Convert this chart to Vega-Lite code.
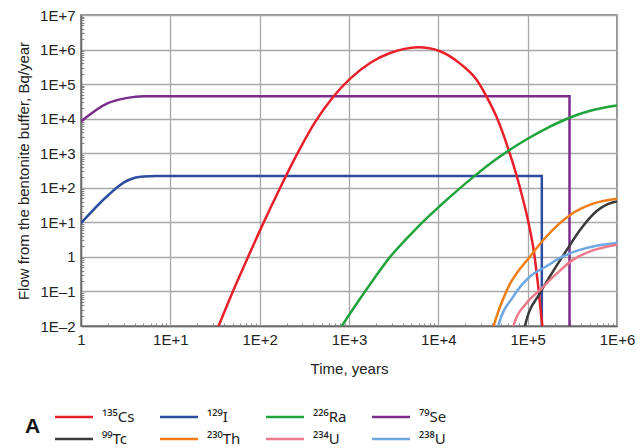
{
  "$schema": "https://vega.github.io/schema/vega-lite/v6.json",
  "autosize": "none",
  "width": 536,
  "height": 311,
  "padding": {"left": 81, "top": 15, "right": 27, "bottom": 122},
  "config": {
    "font": "Liberation Sans",
    "view": {"stroke": "#6b6b6b", "strokeWidth": 1.5},
    "axis": {
      "labelFont": "Liberation Sans",
      "titleFont": "Liberation Sans",
      "labelFontSize": 15,
      "titleFontSize": 15,
      "titleFontWeight": "normal",
      "labelColor": "#222",
      "titleColor": "#222",
      "domainColor": "#6b6b6b",
      "domainWidth": 1.5,
      "gridColor": "#a8a8a8",
      "gridWidth": 1.3,
      "tickColor": "#888"
    }
  },
  "data": {"values": [
    {"series": "⁷⁹Se", "t": 1, "v": 8300},
    {"series": "⁷⁹Se", "t": 2, "v": 28200},
    {"series": "⁷⁹Se", "t": 3, "v": 38000},
    {"series": "⁷⁹Se", "t": 4, "v": 42700},
    {"series": "⁷⁹Se", "t": 5, "v": 44700},
    {"series": "⁷⁹Se", "t": 10, "v": 44700},
    {"series": "⁷⁹Se", "t": 294000, "v": 44700},
    {"series": "⁷⁹Se", "t": 294001, "v": 0.001},

    {"series": "¹²⁹I", "t": 1, "v": 9.5},
    {"series": "¹²⁹I", "t": 2, "v": 60},
    {"series": "¹²⁹I", "t": 3, "v": 141},
    {"series": "¹²⁹I", "t": 4, "v": 195},
    {"series": "¹²⁹I", "t": 5, "v": 212},
    {"series": "¹²⁹I", "t": 7, "v": 218},
    {"series": "¹²⁹I", "t": 144000, "v": 218},
    {"series": "¹²⁹I", "t": 144001, "v": 0.001},

    {"series": "¹³⁵Cs", "t": 31.6, "v": 0.0056},
    {"series": "¹³⁵Cs", "t": 34.67, "v": 0.01},
    {"series": "¹³⁵Cs", "t": 50.12, "v": 0.1},
    {"series": "¹³⁵Cs", "t": 74.13, "v": 1},
    {"series": "¹³⁵Cs", "t": 109.6, "v": 9.33},
    {"series": "¹³⁵Cs", "t": 166.0, "v": 89.1},
    {"series": "¹³⁵Cs", "t": 263.0, "v": 955},
    {"series": "¹³⁵Cs", "t": 416.9, "v": 7943},
    {"series": "¹³⁵Cs", "t": 660.7, "v": 41687},
    {"series": "¹³⁵Cs", "t": 1023, "v": 141254},
    {"series": "¹³⁵Cs", "t": 1738, "v": 416869},
    {"series": "¹³⁵Cs", "t": 2884, "v": 794328},
    {"series": "¹³⁵Cs", "t": 4169, "v": 1047129},
    {"series": "¹³⁵Cs", "t": 5888, "v": 1161449},
    {"series": "¹³⁵Cs", "t": 7943, "v": 1096478},
    {"series": "¹³⁵Cs", "t": 10471, "v": 891251},
    {"series": "¹³⁵Cs", "t": 17378, "v": 398107},
    {"series": "¹³⁵Cs", "t": 26915, "v": 131826},
    {"series": "¹³⁵Cs", "t": 34674, "v": 43652},
    {"series": "¹³⁵Cs", "t": 44668, "v": 11482},
    {"series": "¹³⁵Cs", "t": 60256, "v": 1413},
    {"series": "¹³⁵Cs", "t": 75858, "v": 208.9},
    {"series": "¹³⁵Cs", "t": 83176, "v": 87.1},
    {"series": "¹³⁵Cs", "t": 102329, "v": 9.55},
    {"series": "¹³⁵Cs", "t": 117490, "v": 1.41},
    {"series": "¹³⁵Cs", "t": 131826, "v": 0.126},
    {"series": "¹³⁵Cs", "t": 146218, "v": 0.01},
    {"series": "¹³⁵Cs", "t": 154882, "v": 0.004},

    {"series": "²²⁶Ra", "t": 758.6, "v": 0.0069},
    {"series": "²²⁶Ra", "t": 831.8, "v": 0.01},
    {"series": "²²⁶Ra", "t": 1259, "v": 0.0501},
    {"series": "²²⁶Ra", "t": 1905, "v": 0.234},
    {"series": "²²⁶Ra", "t": 2884, "v": 1},
    {"series": "²²⁶Ra", "t": 4467, "v": 3.47},
    {"series": "²²⁶Ra", "t": 6761, "v": 10.5},
    {"series": "²²⁶Ra", "t": 10471, "v": 30.2},
    {"series": "²²⁶Ra", "t": 16596, "v": 87.1},
    {"series": "²²⁶Ra", "t": 25119, "v": 213.8},
    {"series": "²²⁶Ra", "t": 39811, "v": 549.5},
    {"series": "²²⁶Ra", "t": 63096, "v": 1259},
    {"series": "²²⁶Ra", "t": 100000, "v": 2630},
    {"series": "²²⁶Ra", "t": 177828, "v": 5888},
    {"series": "²²⁶Ra", "t": 288403, "v": 10471},
    {"series": "²²⁶Ra", "t": 501187, "v": 16982},
    {"series": "²²⁶Ra", "t": 1000000, "v": 23988},

    {"series": "²³⁰Th", "t": 39811, "v": 0.0063},
    {"series": "²³⁰Th", "t": 41687, "v": 0.01},
    {"series": "²³⁰Th", "t": 58884, "v": 0.112},
    {"series": "²³⁰Th", "t": 107152, "v": 1.047},
    {"series": "²³⁰Th", "t": 162181, "v": 3.89},
    {"series": "²³⁰Th", "t": 301995, "v": 16.6},
    {"series": "²³⁰Th", "t": 501187, "v": 32.4},
    {"series": "²³⁰Th", "t": 912011, "v": 46.8},
    {"series": "²³⁰Th", "t": 1000000, "v": 47.9},

    {"series": "⁹⁹Tc", "t": 89125, "v": 0.005},
    {"series": "⁹⁹Tc", "t": 93325, "v": 0.01},
    {"series": "⁹⁹Tc", "t": 138038, "v": 0.0912},
    {"series": "⁹⁹Tc", "t": 177828, "v": 0.275},
    {"series": "⁹⁹Tc", "t": 275423, "v": 1.62},
    {"series": "⁹⁹Tc", "t": 389045, "v": 6.17},
    {"series": "⁹⁹Tc", "t": 588844, "v": 20.9},
    {"series": "⁹⁹Tc", "t": 912011, "v": 38.0},
    {"series": "⁹⁹Tc", "t": 1000000, "v": 39.8},

    {"series": "²³⁸U", "t": 44668, "v": 0.0063},
    {"series": "²³⁸U", "t": 46774, "v": 0.01},
    {"series": "²³⁸U", "t": 69183, "v": 0.0724},
    {"series": "²³⁸U", "t": 107152, "v": 0.275},
    {"series": "²³⁸U", "t": 162181, "v": 0.537},
    {"series": "²³⁸U", "t": 251189, "v": 1.047},
    {"series": "²³⁸U", "t": 389045, "v": 1.62},
    {"series": "²³⁸U", "t": 588844, "v": 2.09},
    {"series": "²³⁸U", "t": 1000000, "v": 2.51},

    {"series": "²³⁴U", "t": 66069, "v": 0.0063},
    {"series": "²³⁴U", "t": 69183, "v": 0.01},
    {"series": "²³⁴U", "t": 97724, "v": 0.0468},
    {"series": "²³⁴U", "t": 138038, "v": 0.112},
    {"series": "²³⁴U", "t": 213796, "v": 0.339},
    {"series": "²³⁴U", "t": 323594, "v": 0.832},
    {"series": "²³⁴U", "t": 501187, "v": 1.445},
    {"series": "²³⁴U", "t": 1000000, "v": 2.24}
  ]},
  "mark": {"type": "line", "clip": true, "strokeCap": "butt", "interpolate": "monotone"},
  "encoding": {
    "x": {
      "field": "t", "type": "quantitative",
      "scale": {"type": "log", "domain": [1, 1000000], "nice": false},
      "axis": {
        "title": "Time, years",
        "titlePadding": 14,
        "labelPadding": 6,
        "values": [1,2,3,4,5,6,7,8,9,10,20,30,40,50,60,70,80,90,100,200,300,400,500,600,700,800,900,1000,2000,3000,4000,5000,6000,7000,8000,9000,10000,20000,30000,40000,50000,60000,70000,80000,90000,100000,200000,300000,400000,500000,600000,700000,800000,900000,1000000],
        "labelExpr": "abs(log(datum.value)/LN10 - round(log(datum.value)/LN10)) > 0.001 ? '' : (round(log(datum.value)/LN10) == 0 ? '1' : '1E+' + round(log(datum.value)/LN10))",
        "labelOverlap": false,
        "labelFlush": false,
        "gridOpacity": {"condition": {"test": "abs(log(datum.value)/LN10 - round(log(datum.value)/LN10)) < 0.001", "value": 1}, "value": 0},
        "tickSize": {"condition": {"test": "abs(log(datum.value)/LN10 - round(log(datum.value)/LN10)) < 0.001", "value": 0}, "value": -3}
      }
    },
    "y": {
      "field": "v", "type": "quantitative",
      "scale": {"type": "log", "domain": [0.01, 10000000], "nice": false},
      "axis": {
        "title": "Flow from the bentonite buffer, Bq/year",
        "titlePadding": 8,
        "labelPadding": 6,
        "values": [0.01,0.02,0.03,0.04,0.05,0.06,0.07,0.08,0.09,0.1,0.2,0.3,0.4,0.5,0.6,0.7,0.8,0.9,1,2,3,4,5,6,7,8,9,10,20,30,40,50,60,70,80,90,100,200,300,400,500,600,700,800,900,1000,2000,3000,4000,5000,6000,7000,8000,9000,10000,20000,30000,40000,50000,60000,70000,80000,90000,100000,200000,300000,400000,500000,600000,700000,800000,900000,1000000,2000000,3000000,4000000,5000000,6000000,7000000,8000000,9000000,10000000],
        "labelExpr": "abs(log(datum.value)/LN10 - round(log(datum.value)/LN10)) > 0.001 ? '' : (round(log(datum.value)/LN10) == 0 ? '1' : (round(log(datum.value)/LN10) > 0 ? '1E+' + round(log(datum.value)/LN10) : '1E–' + abs(round(log(datum.value)/LN10))))",
        "labelOverlap": false,
        "labelFlush": false,
        "gridOpacity": {"condition": {"test": "abs(log(datum.value)/LN10 - round(log(datum.value)/LN10)) < 0.001", "value": 1}, "value": 0},
        "tickSize": {"condition": {"test": "abs(log(datum.value)/LN10 - round(log(datum.value)/LN10)) < 0.001", "value": 0}, "value": -3}
      }
    },
    "color": {
      "field": "series", "type": "nominal",
      "scale": {
        "domain": ["¹³⁵Cs", "¹²⁹I", "²²⁶Ra", "⁷⁹Se", "⁹⁹Tc", "²³⁰Th", "²³⁴U", "²³⁸U"],
        "range": ["#e8202a", "#2e4da0", "#1fa33a", "#7b2d8b", "#3a3a3a", "#f07d14", "#ea7a8c", "#6fa8e0"]
      },
      "legend": {
        "orient": "none",
        "legendX": -56,
        "legendY": 391,
        "direction": "horizontal",
        "columns": 4,
        "title": "A",
        "titleOrient": "left",
        "titleFontSize": 21,
        "titleFontWeight": "bold",
        "titleColor": "#111",
        "titleFont": "Liberation Sans",
        "titleBaseline": "middle",
        "titlePadding": 22,
        "symbolType": "M-2,0H2",
        "symbolSize": 361,
        "symbolStrokeWidth": 3,
        "labelFontSize": 15,
        "labelFont": "Noto Sans",
        "labelColor": "#222",
        "labelOffset": 17,
        "columnPadding": 20,
        "rowPadding": 3
      }
    },
    "strokeWidth": {
      "field": "series", "type": "nominal",
      "scale": {
        "domain": ["¹³⁵Cs", "¹²⁹I", "²²⁶Ra", "⁷⁹Se", "⁹⁹Tc", "²³⁰Th", "²³⁴U", "²³⁸U"],
        "range": [2.5, 2.5, 2.5, 2.5, 2.3, 2.3, 1.7, 1.7]
      },
      "legend": null
    }
  }
}
